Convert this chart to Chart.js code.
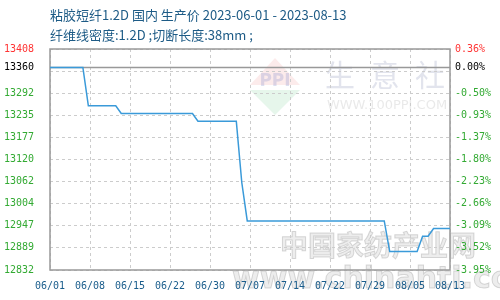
<!DOCTYPE html>
<html lang="zh">
<head>
<meta charset="UTF-8">
<title>粘胶短纤1.2D 国内 生产价</title>
<script src="https://cdn.jsdelivr.net/npm/chart.js@4"></script>
<style>
  html, body { margin: 0; padding: 0; background: #fff; }
  .wrap { position: relative; width: 500px; height: 300px; overflow: hidden; }
  .wrap canvas { position: absolute; left: 0; top: 0; }
  .title { position: absolute; left: 50px; font-family: "Noto Sans CJK SC", sans-serif; font-size: 13px; line-height: 14px; color: #1d5b86; white-space: nowrap; }
  .t1 { top: 8px; }
  .t2 { top: 28px; }
</style>
</head>
<body>
<div class="wrap">
  <canvas id="chart" width="500" height="300"></canvas>
  <div class="title t1">粘胶短纤1.2D 国内 生产价 2023-06-01 - 2023-08-13</div>
  <div class="title t2">纤维线密度:1.2D ;切断长度:38mm ;</div>
</div>
<script>
// price steps (date, yuan/t)
const startDate = '2023-06-01';
const endDate = '2023-08-13';
const dates = ['2023-06-01', '2023-06-07', '2023-06-08', '2023-06-13', '2023-06-14', '2023-06-27',
  '2023-06-28', '2023-07-05', '2023-07-06', '2023-07-07', '2023-08-01', '2023-08-02',
  '2023-08-07', '2023-08-08', '2023-08-09', '2023-08-10', '2023-08-13'];
const prices = [13360, 13360, 13260, 13260, 13240, 13240,
  13220, 13220, 13060, 12960, 12960, 12880,
  12880, 12920, 12920, 12940, 12940];

const basePrice = 13360;
const yMin = 12832;
const yMax = 13408;
const yTickValues = [12832, 12889.6, 12947.2, 13004.8, 13062.4, 13120, 13177.6, 13235.2, 13292.8, 13350.4, 13360, 13408];
const yTickLabels = ['12832', '12889', '12947', '13004', '13062', '13120', '13177', '13235', '13292', '', '13360', '13408'];
const pctTickLabels = ['-3.95%', '-3.52%', '-3.09%', '-2.66%', '-2.23%', '-1.80%', '-1.37%', '-0.93%', '-0.50%', '', '0.00%', '0.36%'];
const xTickLabels = ['06/01', '06/08', '06/15', '06/22', '06/30', '07/07', '07/14', '07/22', '07/29', '08/05', '08/13'];

const DAY = 86400000;
function dayOffset(d) { return (Date.parse(d) - Date.parse(startDate)) / DAY; }
const totalDays = dayOffset(endDate);

const tickFont = { family: '"DejaVu Sans Mono", monospace', size: 10 };

function labelColor(ctx) {
  const v = ctx.tick && ctx.tick.value;
  if (v === yMax) return '#ff3333';
  if (v === basePrice) return '#000000';
  return '#33aa33';
}

const frame = {
  id: 'frame',
  beforeDraw(chart) {
    // faint watermarks
    const c = chart.ctx;
    c.save();
    c.fillStyle = 'rgba(230,90,90,0.12)';
    c.beginPath(); c.moveTo(275, 58); c.moveTo(250, 85); c.lineTo(275, 58); c.lineTo(300, 85); c.closePath(); c.fill();
    c.fillStyle = 'rgba(80,190,110,0.14)';
    c.beginPath(); c.moveTo(250, 90); c.lineTo(300, 90); c.lineTo(275, 115); c.closePath(); c.fill();
    c.fillStyle = 'rgba(120,130,200,0.25)';
    c.font = 'bold 17px "DejaVu Sans"';
    c.textAlign = 'center'; c.textBaseline = 'middle';
    c.fillText('PPI', 275, 82);
    c.fillStyle = 'rgba(190,195,215,0.45)';
    c.font = '30px "Noto Sans CJK SC"';
    ['生', '意', '社'].forEach((ch, i) => c.fillText(ch, 340 + i * 45, 75));
    c.fillStyle = 'rgba(200,200,200,0.4)';
    c.font = '13px "DejaVu Sans"';
    c.fillText('WWW.100PPI.COM', 387, 106);
    c.font = 'bold 28px "Noto Sans CJK SC"';
    c.fillStyle = 'rgba(215,215,215,0.45)';
    c.strokeStyle = 'rgba(150,150,150,0.35)';
    c.lineWidth = 1;
    c.textAlign = 'left';
    c.fillText('中国家纺产业网', 280, 245);
    c.strokeText('中国家纺产业网', 280, 245);
    c.font = 'bold 30px "DejaVu Sans"';
    c.fillText('www.chinahti.com', 232, 280);
    c.strokeText('www.chinahti.com', 232, 280);
    c.restore();
  },
  beforeDatasetsDraw(chart) {
    const { ctx, chartArea: a, scales } = chart;
    const yb = Math.round(scales.y.getPixelForValue(basePrice)) + 0.5;
    ctx.save();
    ctx.strokeStyle = '#999999';
    ctx.lineWidth = 1.5;
    ctx.beginPath(); ctx.moveTo(a.left, yb); ctx.lineTo(a.right, yb); ctx.stroke();
    ctx.strokeRect(a.left, a.top, a.right - a.left, a.bottom - a.top);
    ctx.restore();
  }
};

new Chart(document.getElementById('chart'), {
  type: 'line',
  data: {
    datasets: [{
      data: dates.map((d, i) => ({ x: dayOffset(d), y: prices[i] })),
      borderColor: '#3a9ad9',
      borderWidth: 1.5,
      pointRadius: 0,
      tension: 0,
      fill: false
    }]
  },
  options: {
    responsive: false,
    animation: false,
    layout: { padding: { top: 49, left: 0, right: 0, bottom: 0 } },
    plugins: { legend: { display: false }, tooltip: { enabled: false } },
    scales: {
      x: {
        type: 'linear',
        min: 0,
        max: totalDays,
        afterBuildTicks: s => { s.ticks = xTickLabels.map((_, i) => ({ value: i * totalDays / (xTickLabels.length - 1) })); },
        afterFit: s => { s.height = 30; },
        grid: { color: '#cccccc', drawTicks: false },
        border: { display: false, dash: [3, 3] },
        ticks: { autoSkip: false, maxRotation: 0, padding: 10, color: '#1a5d8c', font: tickFont, callback: (v, i) => xTickLabels[i] }
      },
      y: {
        position: 'left',
        min: yMin,
        max: yMax,
        afterBuildTicks: s => { s.ticks = yTickValues.map(v => ({ value: v })); },
        afterFit: s => { s.width = 50; },
        grid: { color: ctx => (ctx.tick && ctx.tick.value === basePrice) ? 'rgba(0,0,0,0)' : '#cccccc', drawTicks: false },
        border: { display: false, dash: [3, 3] },
        ticks: { autoSkip: false, padding: 16, color: labelColor, font: tickFont, callback: (v, i) => yTickLabels[i] }
      },
      y2: {
        position: 'right',
        min: yMin,
        max: yMax,
        afterBuildTicks: s => { s.ticks = yTickValues.map(v => ({ value: v })); },
        afterFit: s => { s.width = 50; },
        grid: { display: false, drawTicks: false },
        border: { display: false },
        ticks: { autoSkip: false, padding: 5, color: labelColor, font: tickFont, callback: (v, i) => pctTickLabels[i] }
      }
    }
  },
  plugins: [frame]
});
</script>
</body>
</html>
